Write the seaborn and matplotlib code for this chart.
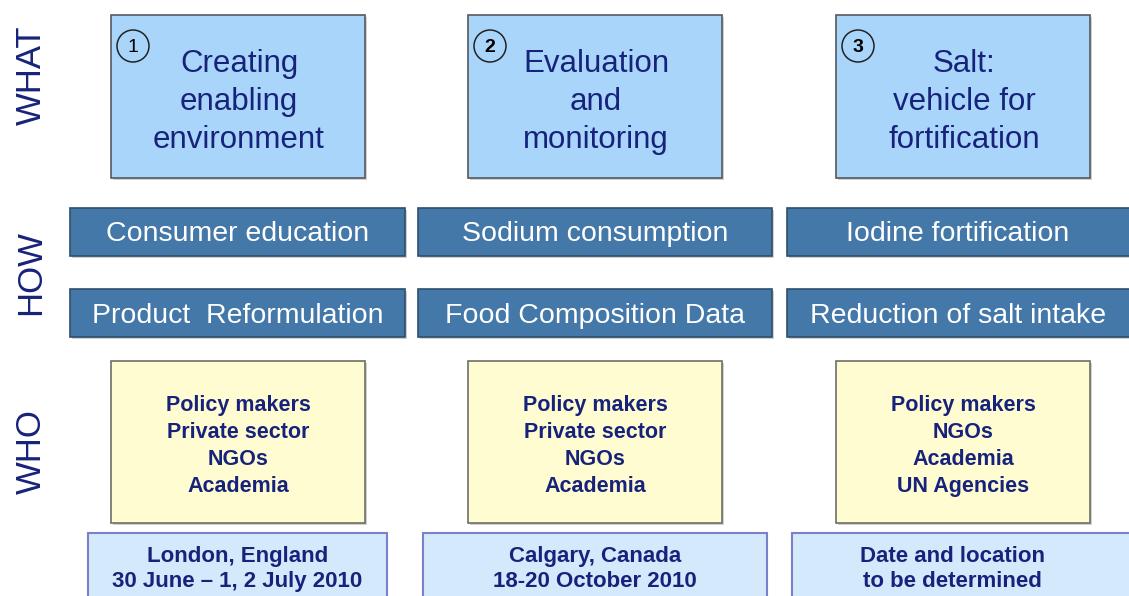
import matplotlib
matplotlib.use("Agg")
import matplotlib.pyplot as plt
from matplotlib.patches import Rectangle, Circle
import seaborn as sns

# Content of the WHAT / HOW / WHO diagram
row_labels = ["WHAT", "HOW", "WHO"]
step_numbers = ["1", "2", "3"]
what_titles = [
    "Creating\nenabling\nenvironment",
    "Evaluation\nand\nmonitoring",
    "Salt:\nvehicle for\nfortification",
]
how_top = ["Consumer education", "Sodium consumption", "Iodine fortification"]
how_bottom = ["Product  Reformulation", "Food Composition Data", "Reduction of salt intake"]
who_groups = [
    ["Policy makers", "Private sector", "NGOs", "Academia"],
    ["Policy makers", "Private sector", "NGOs", "Academia"],
    ["Policy makers", "NGOs", "Academia", "UN Agencies"],
]
meeting_info = [
    "London, England\n30 June \u2013 1, 2 July 2010",
    "Calgary, Canada\n18-20 October 2010",
    "Date and location\nto be determined",
]

# Layout (pixel space, y pointing down)
W, H = 1129, 596
box_x = [111, 468, 836]
box_w = 254
how_x = [(70, 405), (418, 772), (787, 1135)]
meet_x = [(88, 387), (423, 767), (792, 1135)]

navy = "#17237a"
light_blue = "#a9d5fb"
steel = "#4378a9"
pale_yellow = "#fffcd2"
pale_blue = "#d5e9fd"

sns.set_theme(style="white")
plt.rcParams["font.family"] = ["Liberation Sans", "DejaVu Sans"]

fig = plt.figure(figsize=(W / 100, H / 100), dpi=100)
ax = fig.add_axes([0, 0, 1, 1])
ax.set_xlim(0, W)
ax.set_ylim(H, 0)
ax.axis("off")


def box(x0, y0, x1, y1, face, edge, lw=1.2, shadow=True):
    if shadow:
        ax.add_patch(Rectangle((x0 + 2, y0 + 2), x1 - x0, y1 - y0,
                               facecolor="#d0d0d0", edgecolor="none", zorder=1))
    ax.add_patch(Rectangle((x0, y0), x1 - x0, y1 - y0,
                           facecolor=face, edgecolor=edge, linewidth=lw, zorder=2))


# Row labels on the left
for label, yc in zip(row_labels, [75, 273, 452]):
    ax.text(31, yc, label, rotation=90, ha="center", va="center",
            fontsize=25, color=navy)

for i in range(3):
    # WHAT boxes
    x0 = box_x[i]
    box(x0, 15, x0 + box_w, 178, light_blue, "#55595e")
    ax.add_patch(Circle((x0 + 22, 46), 16, facecolor="none",
                        edgecolor="#222222", linewidth=1.1, zorder=3))
    ax.text(x0 + 22, 47, step_numbers[i], ha="center", va="center",
            fontsize=14, color="black", fontweight="bold" if i else "normal", zorder=4)
    ax.text(x0 + box_w / 2 + 1, 102, what_titles[i], ha="center", va="center",
            fontsize=22.5, color=navy, linespacing=1.34, zorder=4)

    # HOW boxes
    hx0, hx1 = how_x[i]
    box(hx0, 208, hx1, 256, steel, "#2e4e6e")
    ax.text((hx0 + min(hx1, W)) / 2, 234, how_top[i], ha="center", va="center",
            fontsize=20.5, color="white", zorder=4)
    box(hx0, 289, hx1, 337, steel, "#2e4e6e")
    ax.text((hx0 + min(hx1, W)) / 2, 316, how_bottom[i], ha="center", va="center",
            fontsize=20.5, color="white", zorder=4)

    # WHO boxes
    box(x0, 361, x0 + box_w, 523, pale_yellow, "#6e6e66")
    ax.text(x0 + box_w / 2, 446, "\n".join(who_groups[i]), ha="center", va="center",
            fontsize=15.5, fontweight="bold", color=navy, linespacing=1.38, zorder=4)

    # Meeting location / dates
    mx0, mx1 = meet_x[i]
    box(mx0, 533, mx1, 620, pale_blue, "#7a80cc", lw=1.5, shadow=False)
    ax.text((mx0 + min(mx1, W)) / 2 - (8 if i == 2 else 0), 569, meeting_info[i],
            ha="center", va="center", fontsize=16, fontweight="bold",
            color=navy, linespacing=1.2, zorder=4)

fig.savefig("out.png", dpi=100)
